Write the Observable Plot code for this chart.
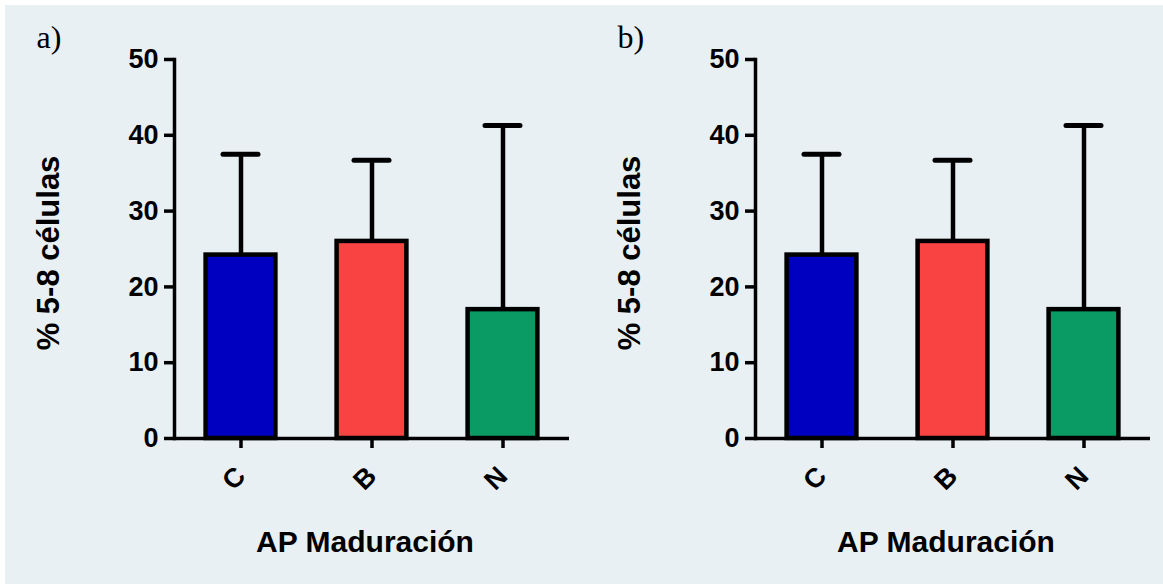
<!DOCTYPE html>
<html><head><meta charset="utf-8">
<script src="https://cdn.jsdelivr.net/npm/d3@7"></script>
<script src="https://cdn.jsdelivr.net/npm/@observablehq/plot@0.6"></script>
<style>
html,body{margin:0;padding:0;background:#fff;}
#bg{position:absolute;left:5px;top:5px;width:1158px;height:579px;background:#e8f0f4;}
.panel{position:absolute;top:0;}
</style></head><body>
<div id="bg"></div>
<div id="pa" class="panel" style="left:0"></div>
<div id="pb" class="panel" style="left:581px"></div>
<script>
const categories = ["C", "B", "N"];
const means = [24.2, 26.0, 17.0];
const sds = [13.3, 10.7, 24.3];
const colors = ["#0000c0", "#f94242", "#0a9a64"];
const yTicks = [0, 10, 20, 30, 40, 50];
const panelLabels = ["a)", "b)"];
const yLabel = "% 5-8 células";
const xLabel = "AP Maduración";

const data = categories.map((c, i) => ({cat: c, mean: means[i], upper: means[i] + sds[i]}));

function panel(tag) {
  return Plot.plot({
    width: 581, height: 584,
    marginLeft: 174, marginRight: 12, marginTop: 59, marginBottom: 146,
    style: {background: "transparent", fontFamily: "Liberation Sans, Arial, sans-serif", fontWeight: "bold", color: "#000", overflow: "visible"},
    x: {domain: categories, padding: 0, axis: null},
    y: {domain: [0, 50], axis: null},
    color: {domain: categories, range: colors},
    marks: [
      Plot.ruleX(data, {x: "cat", y1: "mean", y2: "upper", stroke: "#000", strokeWidth: 4.5}),
      Plot.barY(data, {x: "cat", y: "mean", fill: "cat", stroke: "#000", strokeWidth: 4.5, insetLeft: 30.6, insetRight: 30.6}),
      Plot.tickY(data, {x: "cat", y: "upper", stroke: "#000", strokeWidth: 5, strokeLinecap: "round", insetLeft: 48, insetRight: 48}),
      Plot.frame({anchor: "left", stroke: "#000", strokeWidth: 3.5}),
      Plot.ruleY([0], {stroke: "#000", strokeWidth: 3.5}),
      Plot.axisY({ticks: yTicks, tickSize: 10, tickPadding: 6, strokeWidth: 3.5, fontSize: 27, fontWeight: "bold", label: null}),
      Plot.axisX({tickSize: 10, strokeWidth: 3.5, tickFormat: () => "", label: null}),
      Plot.text(categories, {x: d => d, text: d => d, frameAnchor: "bottom", rotate: -45, textAnchor: "end", lineAnchor: "middle", dx: 0, dy: 33, fontSize: 27, fontWeight: "bold"}),
      Plot.text([yLabel], {text: d => d, frameAnchor: "left", textAnchor: "middle", rotate: -90, lineAnchor: "bottom", dx: -116, dy: 4, fontSize: 31, fontWeight: "bold"}),
      Plot.text([xLabel], {text: d => d, frameAnchor: "bottom", textAnchor: "middle", lineAnchor: "bottom", dx: -7, dy: 113, fontSize: 30, fontWeight: "bold"}),
      Plot.text([tag], {text: d => d, frameAnchor: "top-left", textAnchor: "start", lineAnchor: "bottom", dx: 36 - 174, dy: 47 - 59, fontSize: 32, fontFamily: "Liberation Serif, serif", fontWeight: "normal"})
    ]
  });
}
document.getElementById("pa").appendChild(panel(panelLabels[0]));
document.getElementById("pb").appendChild(panel(panelLabels[1]));
</script>
</body></html>
